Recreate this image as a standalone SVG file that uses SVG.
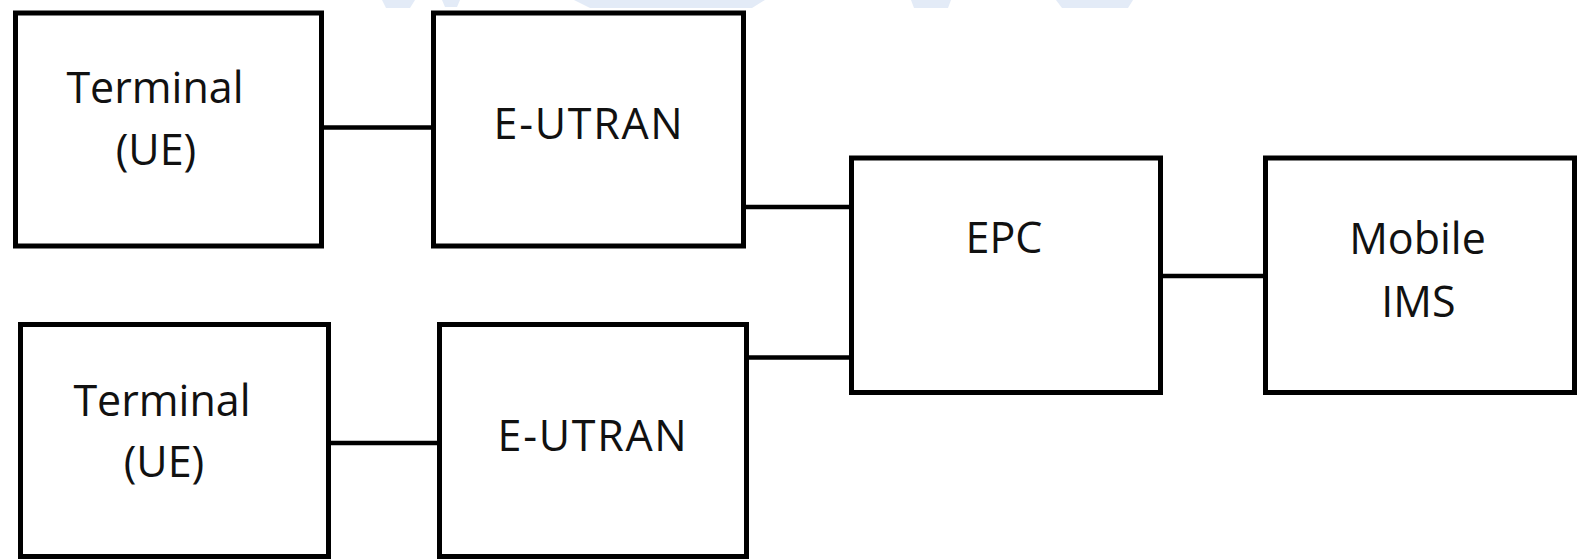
<svg xmlns="http://www.w3.org/2000/svg" width="1580" height="560" viewBox="0 0 1580 560">
  <style>
    .box { fill: #ffffff; stroke: #000000; stroke-width: 5; }
    .link { stroke: #000000; stroke-width: 4.5; fill: none; }
    .label { font-family: "Open Sans", "Noto Sans", "DejaVu Sans", sans-serif; font-size: 43px; fill: #111111; text-anchor: middle; }
    .wide { letter-spacing: 1.7px; }
    .wm { fill: #e3ebf7; }
  </style>
  <rect width="1580" height="560" fill="#ffffff"/>

  <!-- faint watermark fragments along the top edge -->
  <g id="watermark">
    <path class="wm" d="M382 0 L415 0 L410 8 L386 8 Z"/>
    <path class="wm" d="M442 0 L460 0 L457 7 L445 7 Z"/>
    <path class="wm" d="M574 0 L765 0 L752 8 L590 8 Z"/>
    <path class="wm" d="M911 0 L951 0 L948 8 L914 8 Z"/>
    <path class="wm" d="M1056 0 L1133 0 L1128 8 L1062 8 Z"/>
  </g>

  <g id="connectors">
    <line class="link" x1="324" y1="127.5" x2="432" y2="127.5"/>
    <line class="link" x1="746" y1="207" x2="850" y2="207"/>
    <line class="link" x1="331" y1="443" x2="438" y2="443"/>
    <line class="link" x1="749" y1="357.5" x2="852" y2="357.5"/>
    <line class="link" x1="1163" y1="276" x2="1266" y2="276"/>
  </g>

  <g id="terminal-1">
    <rect class="box" x="15.5" y="13" width="306" height="233"/>
    <text class="label" x="155" y="102.5">Terminal</text>
    <text class="label" x="156" y="164.5">(UE)</text>
  </g>

  <g id="eutran-1">
    <rect class="box" x="433.5" y="13" width="310" height="233"/>
    <text class="label wide" x="589" y="138.5">E-UTRAN</text>
  </g>

  <g id="terminal-2">
    <rect class="box" x="20.5" y="324.5" width="308" height="232"/>
    <text class="label" x="162" y="416">Terminal</text>
    <text class="label" x="164" y="477">(UE)</text>
  </g>

  <g id="eutran-2">
    <rect class="box" x="439.5" y="324.5" width="307" height="232"/>
    <text class="label wide" x="593" y="450.5">E-UTRAN</text>
  </g>

  <g id="epc">
    <rect class="box" x="851.5" y="158" width="309" height="234.5"/>
    <text class="label" x="1004" y="253">EPC</text>
  </g>

  <g id="mobile-ims">
    <rect class="box" x="1265.5" y="158" width="309" height="234.5"/>
    <text class="label" x="1417.5" y="254">Mobile</text>
    <text class="label" x="1418.5" y="317">IMS</text>
  </g>
</svg>
